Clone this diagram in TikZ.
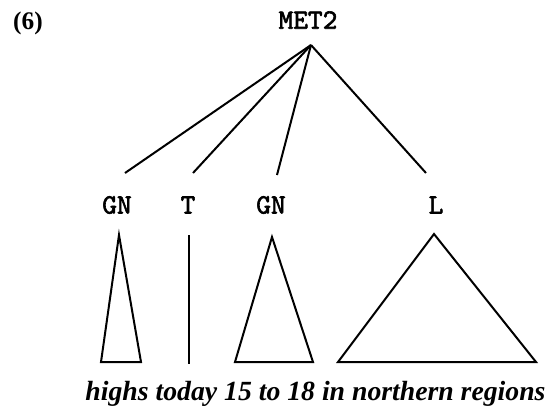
\documentclass[tikz,border=0pt]{standalone}
\usepackage{fontspec}
\setmainfont{Liberation Serif}
\newfontfamily\treefont{lmmono10-regular.otf}[FakeBold=2.2]
\usetikzlibrary{positioning}

\begin{document}
\begin{tikzpicture}[
  x=0.75pt, y=-0.75pt,
  cat/.style={font=\treefont\fontsize{21}{25}\selectfont, inner sep=0pt},
  edge/.style={line width=1.5pt},
  tri/.style={line width=1.5pt, line join=miter},
]
\useasboundingbox (0,0) rectangle (547,415);
\node[font=\bfseries\fontsize{19}{23}\selectfont, inner sep=0pt] (num) at (28,23) {(6)};
\node[cat] (met) at (308,20) {MET2};
\coordinate (top) at (311,45);
\node[cat] (gnA) at (117,205) {GN};
\node[cat] (tB) at (188,205) {T};
\node[cat] (gnC) at (271,205) {GN};
\node[cat] (lD) at (436,205) {L};
\coordinate (gnAend) at (125,173);
\coordinate (tBend) at (193,173);
\coordinate (gnCend) at (277,175);
\coordinate (lDend) at (426,173);
\draw[edge] (top) -- (gnAend);
\draw[edge] (top) -- (tBend);
\draw[edge] (top) -- (gnCend);
\draw[edge] (top) -- (lDend);
\draw[tri] (119,235) -- (141,362) -- (101,362) -- cycle;
\draw[tri] (189,235) -- (189,364);
\draw[tri] (272,237) -- (313,362) -- (235,362) -- cycle;
\draw[tri] (434,234) -- (536,362) -- (338,362) -- cycle;
\node[font=\bfseries\itshape\fontsize{20.8}{24}\selectfont, inner sep=0pt] (phrase) at (315.5,393.5)
  {highs today 15 to 18 in northern regions};
\end{tikzpicture}
\end{document}
